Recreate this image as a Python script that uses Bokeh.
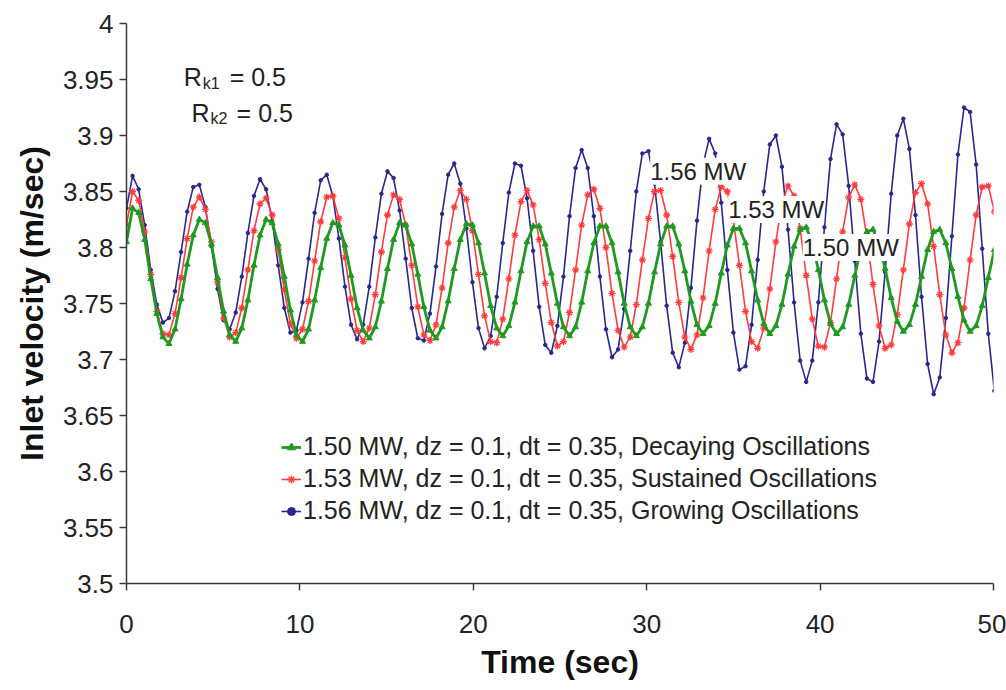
from bokeh.plotting import figure
from bokeh.models import Range1d, FixedTicker, Legend, LegendItem, Label
from bokeh.embed import file_html
from bokeh.resources import INLINE

FONT = "Liberation Sans"

# ---- data ----
x_ticks = [0, 10, 20, 30, 40, 50]
y_ticks = [3.5, 3.55, 3.6, 3.65, 3.7, 3.75, 3.8, 3.85, 3.9, 3.95, 4.0]
y_tick_labels = ["3.5", "3.55", "3.6", "3.65", "3.7", "3.75", "3.8", "3.85", "3.9", "3.95", "4"]

dt = 0.35
time = [round(dt * k, 2) for k in range(144)]

v_150 = [3.805, 3.835, 3.831, 3.807, 3.772, 3.741, 3.720, 3.714, 3.727, 3.754,
         3.785, 3.811, 3.825, 3.822, 3.803, 3.773, 3.743, 3.722, 3.716, 3.728,
         3.753, 3.784, 3.811, 3.825, 3.822, 3.803, 3.774, 3.744, 3.722, 3.716,
         3.727, 3.753, 3.782, 3.808, 3.822, 3.820, 3.802, 3.775, 3.746, 3.726,
         3.719, 3.729, 3.752, 3.781, 3.807, 3.822, 3.820, 3.803, 3.776, 3.747,
         3.726, 3.719, 3.729, 3.752, 3.781, 3.807, 3.821, 3.820, 3.804, 3.777,
         3.748, 3.728, 3.721, 3.730, 3.751, 3.779, 3.805, 3.819, 3.819, 3.803,
         3.777, 3.750, 3.729, 3.721, 3.729, 3.751, 3.779, 3.804, 3.819, 3.819,
         3.804, 3.778, 3.750, 3.729, 3.721, 3.729, 3.750, 3.778, 3.803, 3.819,
         3.819, 3.803, 3.779, 3.752, 3.731, 3.723, 3.730, 3.750, 3.777, 3.802,
         3.817, 3.817, 3.804, 3.779, 3.753, 3.732, 3.723, 3.730, 3.749, 3.776,
         3.801, 3.816, 3.818, 3.804, 3.780, 3.753, 3.732, 3.723, 3.729, 3.749,
         3.775, 3.799, 3.814, 3.816, 3.803, 3.781, 3.755, 3.734, 3.725, 3.731,
         3.749, 3.774, 3.798, 3.814, 3.816, 3.804, 3.781, 3.756, 3.735, 3.725,
         3.730, 3.748, 3.773, 3.798]

v_153 = [3.820, 3.850, 3.842, 3.814, 3.776, 3.743, 3.723, 3.722, 3.741, 3.773,
         3.808, 3.836, 3.845, 3.834, 3.805, 3.769, 3.737, 3.720, 3.724, 3.746,
         3.780, 3.815, 3.839, 3.844, 3.829, 3.798, 3.762, 3.732, 3.719, 3.727,
         3.752, 3.788, 3.823, 3.845, 3.846, 3.826, 3.791, 3.754, 3.726, 3.716,
         3.728, 3.758, 3.796, 3.829, 3.847, 3.843, 3.820, 3.784, 3.747, 3.722,
         3.717, 3.731, 3.764, 3.804, 3.836, 3.851, 3.843, 3.815, 3.776, 3.739,
         3.716, 3.715, 3.736, 3.772, 3.811, 3.841, 3.851, 3.838, 3.807, 3.768,
         3.733, 3.712, 3.716, 3.742, 3.780, 3.820, 3.847, 3.852, 3.835, 3.800,
         3.759, 3.726, 3.711, 3.720, 3.749, 3.789, 3.826, 3.850, 3.851, 3.829,
         3.792, 3.751, 3.720, 3.709, 3.722, 3.755, 3.797, 3.834, 3.854, 3.850,
         3.824, 3.784, 3.743, 3.716, 3.710, 3.728, 3.763, 3.805, 3.840, 3.855,
         3.846, 3.817, 3.775, 3.736, 3.712, 3.711, 3.733, 3.772, 3.814, 3.845,
         3.856, 3.843, 3.809, 3.767, 3.730, 3.710, 3.713, 3.740, 3.780, 3.821,
         3.849, 3.857, 3.839, 3.801, 3.758, 3.722, 3.706, 3.715, 3.746, 3.789,
         3.829, 3.854, 3.855, 3.832]

v_156 = [3.835, 3.864, 3.852, 3.820, 3.780, 3.749, 3.733, 3.737, 3.761, 3.796,
         3.832, 3.854, 3.856, 3.836, 3.801, 3.763, 3.735, 3.727, 3.742, 3.774,
         3.813, 3.846, 3.861, 3.852, 3.824, 3.784, 3.746, 3.724, 3.726, 3.751,
         3.790, 3.831, 3.860, 3.865, 3.846, 3.808, 3.765, 3.731, 3.718, 3.731,
         3.765, 3.809, 3.848, 3.868, 3.862, 3.833, 3.790, 3.746, 3.719, 3.717,
         3.741, 3.783, 3.830, 3.865, 3.875, 3.857, 3.817, 3.769, 3.728, 3.710,
         3.721, 3.756, 3.804, 3.849, 3.875, 3.873, 3.844, 3.797, 3.747, 3.713,
         3.706, 3.730, 3.774, 3.828, 3.871, 3.887, 3.871, 3.828, 3.774, 3.727,
         3.702, 3.709, 3.745, 3.797, 3.850, 3.884, 3.886, 3.857, 3.805, 3.748,
         3.706, 3.693, 3.715, 3.764, 3.824, 3.874, 3.897, 3.884, 3.840, 3.780,
         3.724, 3.691, 3.694, 3.731, 3.789, 3.850, 3.892, 3.900, 3.872, 3.816,
         3.751, 3.699, 3.680, 3.699, 3.751, 3.818, 3.879, 3.910, 3.901, 3.855,
         3.788, 3.723, 3.683, 3.680, 3.716, 3.778, 3.848, 3.900, 3.915, 3.888,
         3.829, 3.756, 3.696, 3.669, 3.684, 3.737, 3.810, 3.883, 3.925, 3.921,
         3.874, 3.799, 3.723, 3.672]

labels = ["1.50 MW, dz = 0.1, dt = 0.35, Decaying Oscillations",
          "1.53 MW, dz = 0.1, dt = 0.35, Sustained Oscillations",
          "1.56 MW, dz = 0.1, dt = 0.35, Growing Oscillations"]
curve_tags = ["1.50 MW", "1.53 MW", "1.56 MW"]

# ---- figure ----
p = figure(width=1006, height=690, output_backend="svg", toolbar_location=None,
           x_range=Range1d(0, 50), y_range=Range1d(3.5, 4.0),
           min_border_left=126, min_border_right=13, min_border_top=23,
           min_border_bottom=107)
p.outline_line_color = None
p.xgrid.visible = False
p.ygrid.visible = False
p.background_fill_color = "white"
p.border_fill_color = "white"

p.xaxis.ticker = FixedTicker(ticks=x_ticks)
p.yaxis.ticker = FixedTicker(ticks=y_ticks)
p.yaxis.major_label_overrides = dict(zip(y_ticks, y_tick_labels))
p.xaxis.axis_label = "Time (sec)"
p.yaxis.axis_label = "Inlet velocity (m/sec)"
for ax in (p.xaxis[0], p.yaxis[0]):
    ax.axis_line_color = "#3a3a3a"
    ax.axis_line_width = 1.5
    ax.major_tick_line_color = "#3a3a3a"
    ax.major_tick_line_width = 1.5
    ax.major_tick_out = 7
    ax.major_tick_in = 0
    ax.minor_tick_out = 0
    ax.minor_tick_in = 0
    ax.major_label_text_font = FONT
    ax.major_label_text_font_size = "26px"
    ax.major_label_text_color = "#222222"
    ax.axis_label_text_font = FONT
    ax.axis_label_text_font_style = "bold"
    ax.axis_label_text_font_size = "32px"
    ax.axis_label_text_color = "#111111"
p.yaxis.major_label_standoff = 6
p.yaxis.axis_label_standoff = 10
p.xaxis.major_label_standoff = 24
p.xaxis.axis_label_standoff = 8

# draw order: blue, red, green (green on top)
l156 = p.line(time, v_156, line_color="#27278f", line_width=1.6)
s156 = p.scatter(time, v_156, marker="circle", size=3.5, fill_color="#27278f",
                 line_color="#27278f")
l153 = p.line(time, v_153, line_color="#ff3b3b", line_width=1.6)
s153 = p.scatter(time, v_153, marker="asterisk", size=7, line_color="#ff3b3b",
                 line_width=1.3)
l150 = p.line(time, v_150, line_color="#1f9a1f", line_width=2.8)
s150 = p.scatter(time, v_150, marker="triangle", size=6, fill_color="#1f9a1f",
                 line_color="#1f9a1f")

legend = Legend(items=[LegendItem(label=labels[0], renderers=[l150, s150]),
                       LegendItem(label=labels[1], renderers=[l153, s153]),
                       LegendItem(label=labels[2], renderers=[l156, s156])],
                location=(155, 58), border_line_color=None,
                background_fill_alpha=0, label_text_font=FONT,
                label_text_font_size="25px", label_text_color="#222222",
                glyph_width=20, glyph_height=22, label_height=22,
                spacing=3, padding=0, margin=0, label_standoff=2)
p.add_layout(legend)

# ---- text annotations ----
tag_pos = [(39.0, 3.800), (34.7, 3.834), (30.2, 3.868)]
for tag, (tx, ty) in zip(curve_tags, tag_pos):
    p.add_layout(Label(x=tx, y=ty, text=tag, text_font=FONT, text_font_size="24px",
                       text_color="#222222", text_baseline="middle",
                       text_align="left", background_fill_color="white"))

for (rx, sx, ex, by, sby, sub) in [(3.30, 4.40, 5.95, 3.952, 3.9465, "k1"),
                                    (3.75, 4.85, 6.35, 3.9205, 3.915, "k2")]:
    p.add_layout(Label(x=rx, y=by, text="R", text_font=FONT, text_font_size="25px",
                       text_color="#222222", text_baseline="alphabetic"))
    p.add_layout(Label(x=sx, y=sby, text=sub, text_font=FONT, text_font_size="16px",
                       text_color="#222222", text_baseline="alphabetic"))
    p.add_layout(Label(x=ex, y=by, text="= 0.5", text_font=FONT, text_font_size="25px",
                       text_color="#222222", text_baseline="alphabetic"))

open("out.html", "w").write(file_html(p, INLINE))
